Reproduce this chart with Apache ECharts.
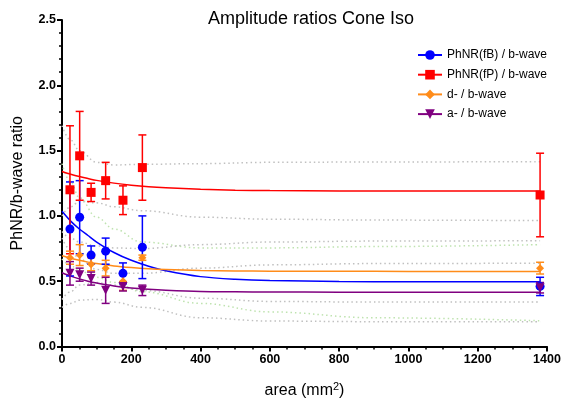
<!DOCTYPE html>
<html>
<head>
<meta charset="utf-8">
<script src="https://cdn.jsdelivr.net/npm/echarts@6/dist/echarts.min.js"></script>
<style>
  html, body { margin: 0; padding: 0; background: #fff; }
  #chart1 { width: 570px; height: 404px; }
</style>
</head>
<body>
<div id="chart1"></div>
<script>
// measured points (area in mm2), mean and error
var area = [23, 51, 84, 126, 176, 232, 1380];
var names = ['PhNR(fB) / b-wave', 'PhNR(fP) / b-wave', 'd- / b-wave', 'a- / b-wave'];

var fbMean = [0.90, 0.99, 0.70, 0.73, 0.56, 0.76, 0.46];
var fbErr  = [0.36, 0.28, 0.07, 0.10, 0.08, 0.24, 0.07];
var fpMean = [1.20, 1.46, 1.18, 1.27, 1.12, 1.37, 1.16];
var fpErr  = [0.49, 0.34, 0.07, 0.14, 0.11, 0.25, 0.32];
var dMean  = [0.68, 0.70, 0.63, 0.60, 0.50, 0.68, 0.60];
var dErr   = [0.05, 0.08, 0.05, 0.06, 0.07, 0.02, 0.045];
var aMean  = [0.56, 0.55, 0.52, 0.43, 0.46, 0.43, 0.45];
var aErr   = [0.09, 0.05, 0.05, 0.10, 0.035, 0.04, 0.04];

// fitted curves
var fitX  = [0, 25, 50, 75, 100, 150, 200, 250, 300, 400, 500, 600, 800, 1000, 1380];
var fbFit = [1.035, 0.96, 0.90, 0.85, 0.80, 0.72, 0.66, 0.615, 0.58, 0.535, 0.515, 0.505, 0.498, 0.496, 0.495];
var fpFit = [1.34, 1.319, 1.301, 1.286, 1.272, 1.251, 1.235, 1.223, 1.215, 1.204, 1.197, 1.194, 1.191, 1.19, 1.19];
var dFit  = [0.695, 0.676, 0.66, 0.646, 0.635, 0.617, 0.605, 0.596, 0.59, 0.582, 0.579, 0.577, 0.576, 0.575, 0.575];
var aFit  = [0.565, 0.539, 0.518, 0.50, 0.486, 0.464, 0.448, 0.438, 0.431, 0.422, 0.419, 0.417, 0.416, 0.415, 0.415];

// confidence bands (dotted)
var bandX   = [0, 25, 50, 100, 150, 230, 400, 600, 900, 1380];
var fpUpper = [1.69, 1.58, 1.50, 1.41, 1.39, 1.395, 1.40, 1.41, 1.413, 1.415];
var fpLower = [1.00, 1.07, 1.11, 1.10, 1.07, 1.04, 0.99, 0.975, 0.968, 0.964];
var fbUpper = [1.40, 1.26, 1.14, 0.99, 0.90, 0.80, 0.755, 0.755, 0.765, 0.78];
var fbLower = [0.67, 0.62, 0.58, 0.53, 0.49, 0.42, 0.33, 0.265, 0.22, 0.197];
var dUpper  = [0.88, 0.83, 0.80, 0.77, 0.755, 0.75, 0.78, 0.80, 0.807, 0.81];
var dLower  = [0.36, 0.42, 0.47, 0.49, 0.47, 0.43, 0.37, 0.345, 0.34, 0.34];
var aUpper  = [0.83, 0.74, 0.67, 0.59, 0.56, 0.56, 0.60, 0.625, 0.635, 0.638];
var aLower  = [0.30, 0.33, 0.355, 0.36, 0.34, 0.30, 0.22, 0.195, 0.19, 0.19];

var colors = ['#0000ff', '#ff0000', '#ff8c1a', '#800080'];
var font = 'Arial, "Liberation Sans", sans-serif';

function pairs(xs, ys) {
    return xs.map(function (x, i) { return [x, ys[i]]; });
}

function errRender(color) {
    return function (params, api) {
        var x = api.value(0);
        var top = api.coord([x, api.value(2)]);
        var bot = api.coord([x, api.value(1)]);
        var w = 4;
        var st = { stroke: color, lineWidth: 1.5 };
        return {
            type: 'group',
            children: [
                { type: 'line', shape: { x1: top[0], y1: top[1], x2: bot[0], y2: bot[1] }, style: st },
                { type: 'line', shape: { x1: top[0] - w, y1: top[1], x2: top[0] + w, y2: top[1] }, style: st },
                { type: 'line', shape: { x1: bot[0] - w, y1: bot[1], x2: bot[0] + w, y2: bot[1] }, style: st }
            ]
        };
    };
}

function band(ys, color) {
    return {
        type: 'line',
        data: pairs(bandX, ys),
        smooth: 0.4,
        smoothMonotone: 'x',
        symbol: 'none',
        silent: true,
        z: 1,
        lineStyle: { color: color, width: 1.5, type: [1.5, 3] }
    };
}

var groups = [
    { mean: fbMean, err: fbErr, fit: fbFit, symbol: 'circle', size: 9, rotate: 0 },
    { mean: fpMean, err: fpErr, fit: fpFit, symbol: 'rect', size: 9, rotate: 0 },
    { mean: dMean, err: dErr, fit: dFit, symbol: 'diamond', size: 8, rotate: 0 },
    { mean: aMean, err: aErr, fit: aFit, symbol: 'triangle', size: 9, rotate: 180 }
];

var series = [
    band(fpUpper, '#c0c0c0'), band(fpLower, '#c0c0c0'),
    band(fbUpper, '#bfe3b0'), band(fbLower, '#bfe3b0'),
    band(dUpper, '#c0c0c0'), band(dLower, '#c0c0c0'),
    band(aUpper, '#c0c0c0'), band(aLower, '#c0c0c0')
];

groups.forEach(function (g, k) {
    series.push({
        name: names[k],
        type: 'line',
        data: pairs(fitX, g.fit),
        smooth: 0.3,
        symbol: g.symbol,
        symbolRotate: g.rotate,
        showSymbol: false,
        z: 3,
        color: colors[k],
        lineStyle: { color: colors[k], width: 1.5 }
    });
    series.push({
        name: names[k],
        type: 'custom',
        renderItem: errRender(colors[k]),
        data: area.map(function (a, i) { return [a, g.mean[i] - g.err[i], g.mean[i] + g.err[i]]; }),
        encode: { x: 0, y: [1, 2] },
        z: 4
    });
    series.push({
        name: names[k],
        type: 'scatter',
        data: pairs(area, g.mean),
        symbol: g.symbol,
        symbolSize: g.size,
        symbolRotate: g.rotate,
        z: 5,
        itemStyle: { color: colors[k], opacity: 1 }
    });
});

var myChart = echarts.init(document.getElementById('chart1'));

option = {
    animation: false,
    title: {
        text: 'Amplitude ratios Cone Iso',
        left: 306,
        top: 5,
        textAlign: 'center',
        textStyle: { fontFamily: font, fontWeight: 'normal', fontSize: 18, color: '#000' }
    },
    legend: {
        data: names,
        orient: 'vertical',
        left: 412,
        top: 44,
        itemWidth: 24,
        itemHeight: 12,
        itemGap: 7.7,
        textStyle: { fontFamily: font, fontSize: 12, color: '#000' }
    },
    grid: { left: 62, right: 23, top: 20, bottom: 57 },
    xAxis: {
        type: 'value',
        min: 0,
        max: 1400,
        interval: 200,
        name: 'area (mm{sup|2})',
        nameLocation: 'middle',
        nameGap: 35,
        nameTextStyle: {
            fontFamily: font, fontSize: 16, color: '#000',
            rich: { sup: { fontFamily: font, fontSize: 11, color: '#000', verticalAlign: 'top', padding: [0, 0, 8, 0] } }
        },
        axisLine: { lineStyle: { color: '#000', width: 2 } },
        axisTick: { length: 5, lineStyle: { width: 2, color: '#000' } },
        minorTick: { show: true, splitNumber: 4, length: 3, lineStyle: { width: 1.5, color: '#000' } },
        splitLine: { show: false },
        axisLabel: {
            fontFamily: font, fontWeight: 'bold', fontSize: 12.5, color: '#000', margin: 7,
            formatter: function (v) { return String(v); }
        }
    },
    yAxis: {
        type: 'value',
        min: 0,
        max: 2.5,
        interval: 0.5,
        name: 'PhNR/b-wave ratio',
        nameLocation: 'middle',
        nameGap: 36,
        nameTextStyle: { fontFamily: font, fontSize: 16, color: '#000' },
        axisLine: { show: true, lineStyle: { color: '#000', width: 2 } },
        axisTick: { show: true, length: 5, lineStyle: { width: 2, color: '#000' } },
        minorTick: { show: true, splitNumber: 5, length: 3, lineStyle: { width: 1.5, color: '#000' } },
        splitLine: { show: false },
        axisLabel: {
            fontFamily: font, fontWeight: 'bold', fontSize: 12.5, color: '#000', margin: 6,
            formatter: function (v) { return v.toFixed(1); }
        }
    },
    series: series
};
myChart.setOption(option);
window.onresize = myChart.resize;
</script>
</body>
</html>
